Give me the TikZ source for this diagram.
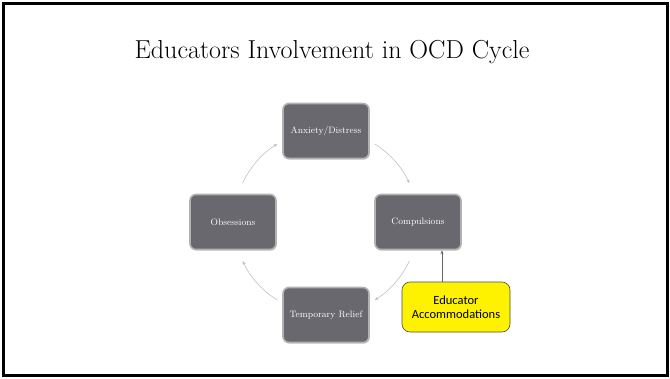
\documentclass[tikz,border=0pt]{standalone}
\usepackage{fontspec}
\newfontfamily\calib{Carlito}
\usetikzlibrary{arrows.meta,shadows,calc}
\begin{document}
\begin{tikzpicture}[x=1pt,y=-1pt,
  stage/.style={draw=gray!60,line width=1.6pt,fill={rgb,255:red,104;green,104;blue,110},rounded corners=6pt,
    minimum width=86pt,minimum height=55pt,inner sep=1pt,text=white,font=\fontsize{9.3}{11}\selectfont,
    drop shadow={shadow xshift=0.8pt,shadow yshift=-1.2pt,opacity=0.35}},
  note/.style={draw=black!70,line width=0.6pt,fill=yellow,rounded corners=8pt,minimum width=108pt,minimum height=50pt,
    align=center,font=\calib\fontsize{12.5}{14.5}\selectfont},
  cyc/.style={draw=gray!55,line width=0.5pt,-{Stealth[length=4pt,width=3pt,open]}},
  up/.style={draw=gray!80!black,line width=0.6pt,-{Stealth[length=4pt,width=3pt]}}]
\useasboundingbox (0,0) rectangle (670,378);
\fill[white] (0,0) rectangle (670,378);
\draw[line width=3pt] (3,3) rectangle (667,375);
\node (title) at (332,52) {\fontsize{26}{30}\selectfont Educators Involvement in OCD Cycle};
\node[stage] (anx) at (326,131) {Anxiety/Distress};
\node[stage] (obs) at (233,222) {Obsessions};
\node[stage] (comp) at (418,222) {Compulsions};
\node[stage] (rel) at (326,315) {Temporary Relief};
\node[note] (edu) at (456,307) {Educator\\Accommodations};
\coordinate (c) at (326,222);
\coordinate (ux) at (442,0);
\draw[cyc] ($(c)+(58:92pt)$) arc[start angle=58,end angle=25,radius=92pt];
\draw[cyc] ($(c)+(-25:92pt)$) arc[start angle=-25,end angle=-58,radius=92pt];
\draw[cyc] ($(c)+(-122:92pt)$) arc[start angle=-122,end angle=-155,radius=92pt];
\draw[cyc] ($(c)+(155:92pt)$) arc[start angle=155,end angle=122,radius=92pt];
\draw[up] (edu.north -| ux) -- (comp.south -| ux);
\end{tikzpicture}
\end{document}
